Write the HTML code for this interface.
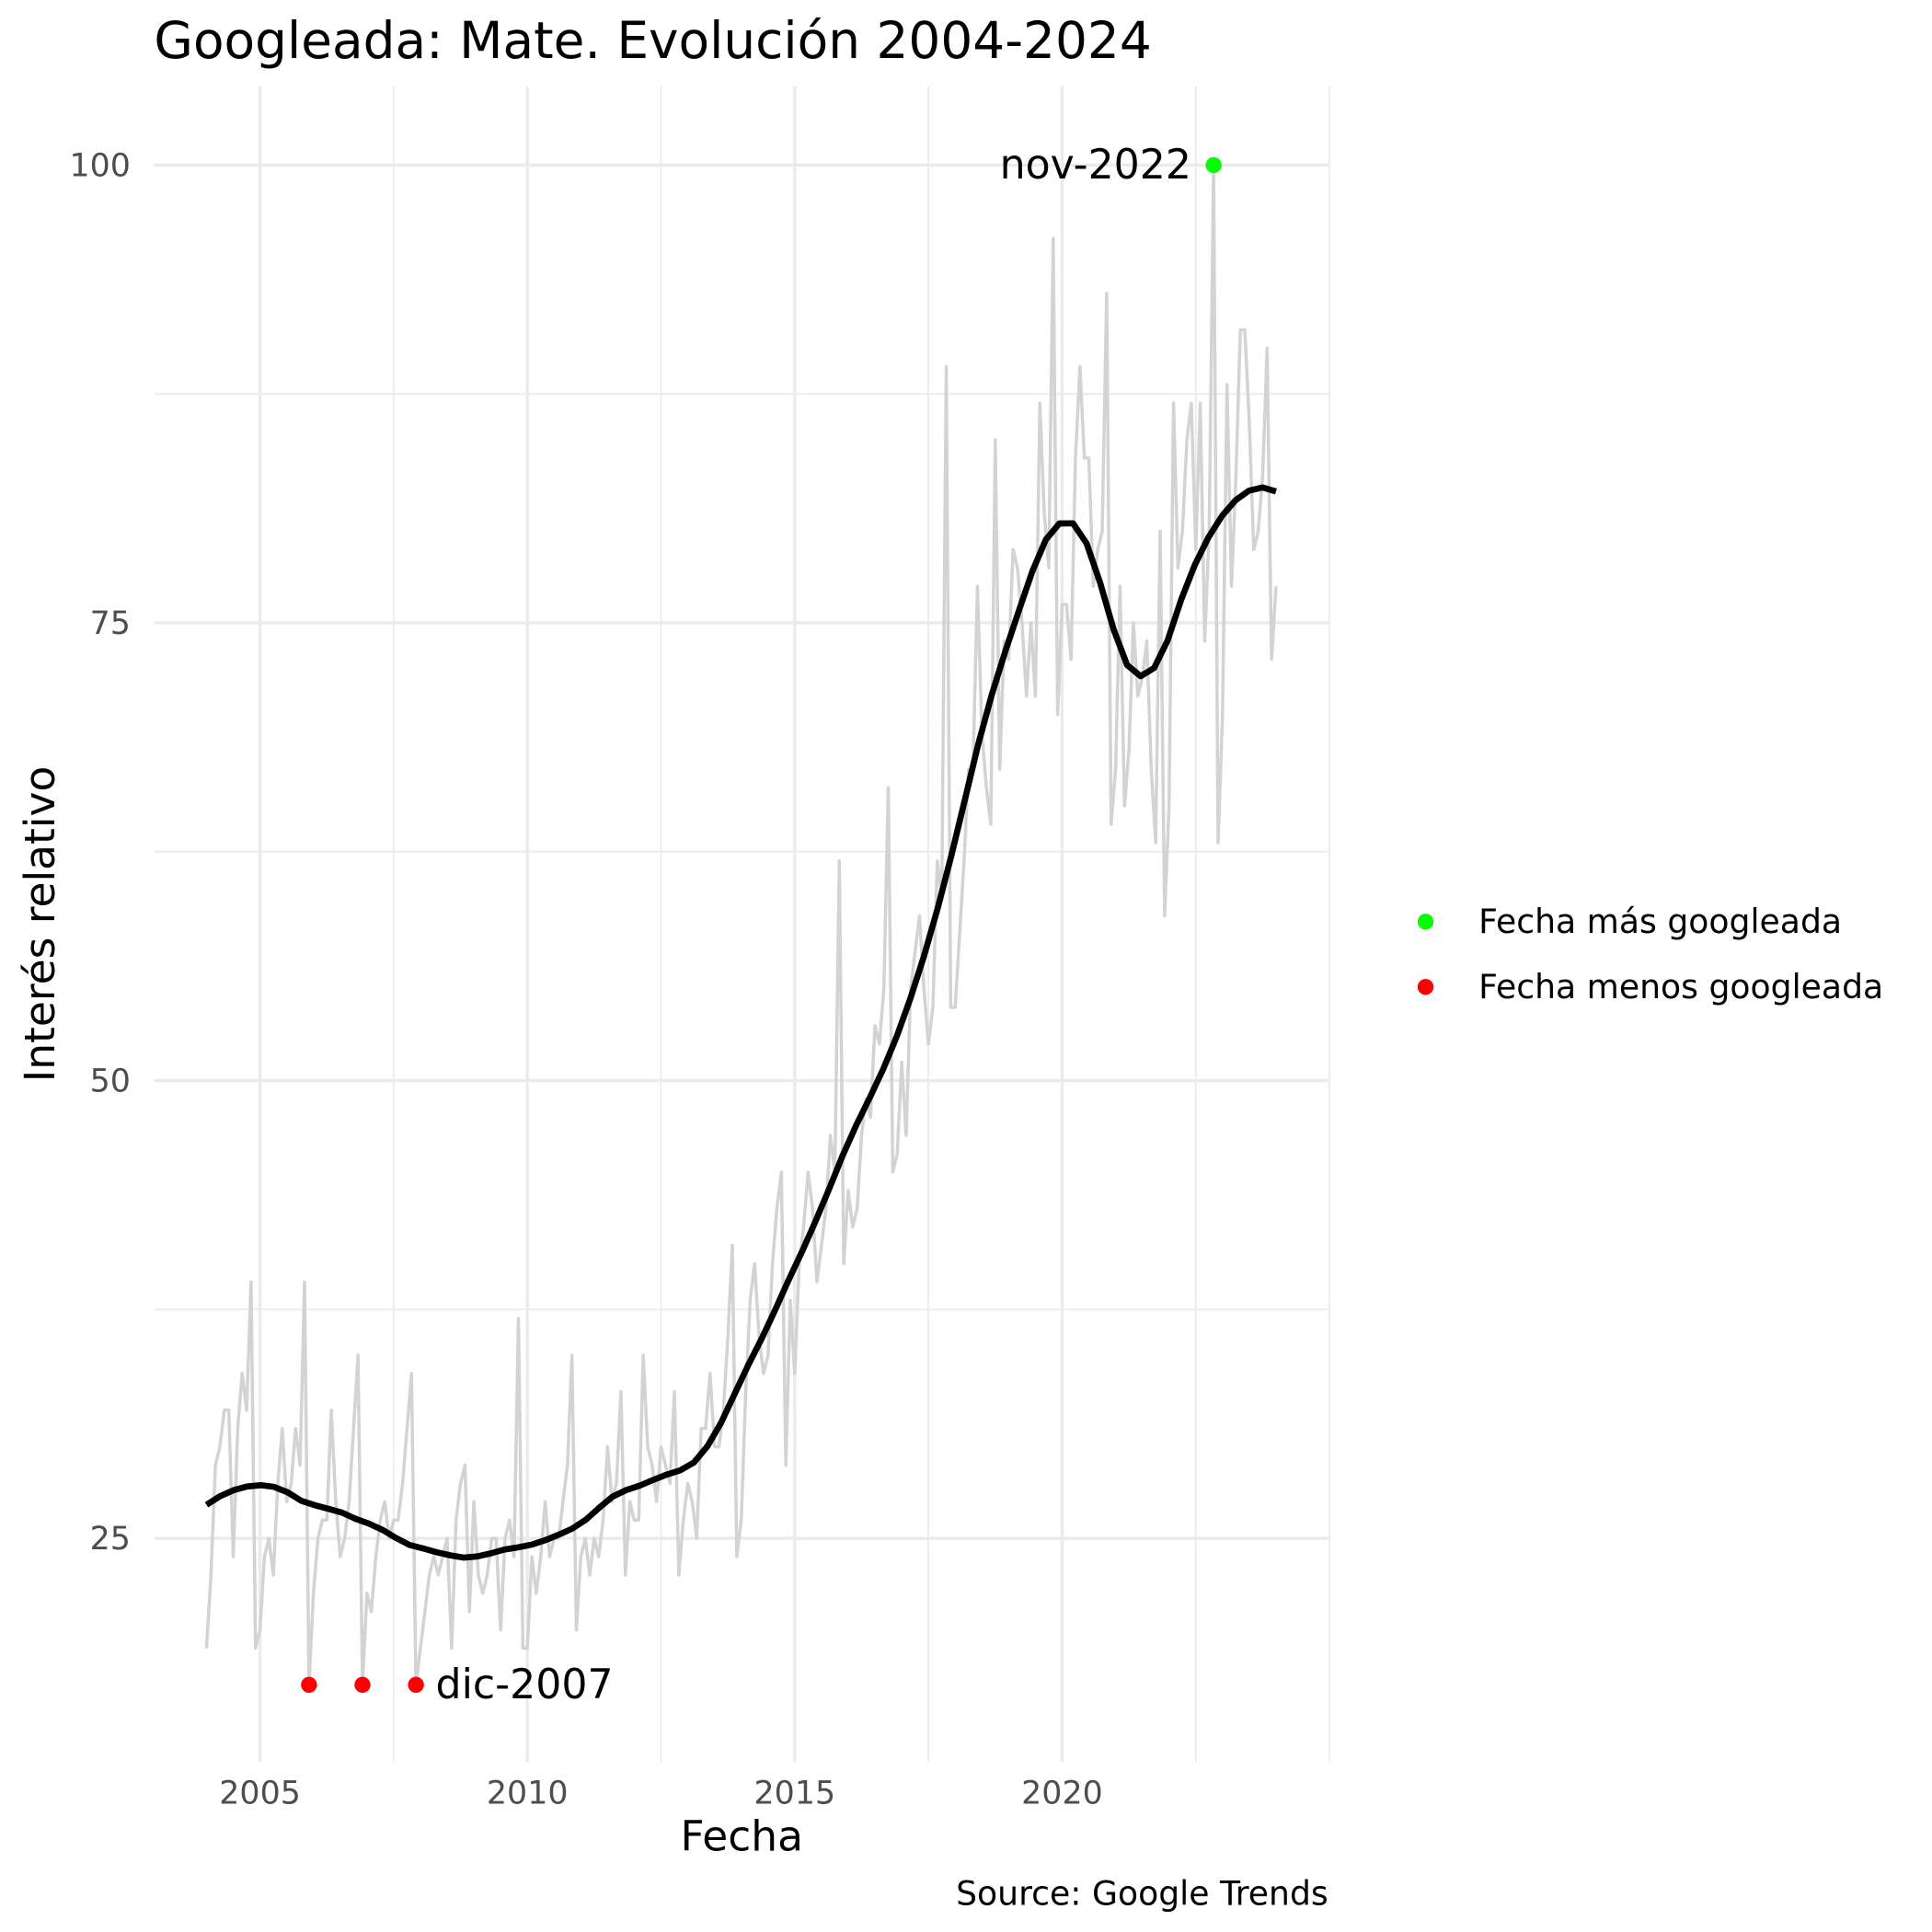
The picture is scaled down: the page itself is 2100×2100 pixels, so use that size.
<!DOCTYPE html>
<html><head><meta charset="utf-8"><style>
html,body{margin:0;padding:0;background:#fff;}
svg{display:block;font-family:"DejaVu Sans","Liberation Sans",sans-serif;}
</style></head><body>
<svg id="chart" width="2100" height="2100" viewBox="0 0 1568 1568">
<rect width="1568" height="1568" fill="#fff"/>
<g id="grid"></g>
<g id="series"></g>
<g id="axes"></g>
<text x="125" y="47" font-size="41" fill="#000">Googleada: Mate. Evolución 2004-2024</text>
<text x="602" y="1502" font-size="34" text-anchor="middle" fill="#000">Fecha</text>
<text transform="translate(44,750) rotate(-90)" font-size="34" text-anchor="middle" fill="#000">Interés relativo</text>
<text x="1078" y="1546" font-size="27" text-anchor="end" fill="#000">Source: Google Trends</text>
<g>
<g><circle cx="1157" cy="748" r="6.5" fill="#00ff00"/><text x="1200" y="757" font-size="27">Fecha más googleada</text></g>
<g><circle cx="1157" cy="801" r="6.5" fill="#ff0000"/><text x="1200" y="810" font-size="27">Fecha menos googleada</text></g>
</g>
</svg>
<script>
const startYear = 2004;
const values = [
19,23,29,30,32,32,24,31,34,32,39,19,
20,24,25,23,28,31,27,28,31,29,39,17,
22,25,26,26,32,27,24,25,27,31,35,17,
22,21,24,26,27,25,26,26,28,31,34,17,
19,21,23,24,23,24,25,19,26,28,29,21,
27,23,22,23,25,25,20,25,26,24,37,19,
19,24,22,24,27,24,25,25,27,29,35,20,
24,25,23,25,24,26,30,27,28,33,23,27,
26,26,35,30,29,27,30,29,28,33,23,26,
28,27,25,31,31,34,30,30,32,36,41,24,
26,33,38,40,36,34,35,40,43,45,29,38,
34,40,42,45,43,39,41,43,47,45,62,40,
44,42,43,47,49,48,53,52,55,66,45,46,
51,47,55,57,59,55,52,54,62,60,89,54,
54,58,62,67,67,77,69,66,64,85,67,74,
73,79,78,75,71,75,71,87,81,78,96,70,
76,76,73,84,89,84,84,77,79,80,93,64,
67,77,65,68,75,71,72,74,67,63,80,59,
65,87,78,80,85,87,79,87,74,80,100,63,
70,88,77,83,91,91,86,79,80,83,90,73,
77];
const maxLabel = ["nov-2022"];
const minLabel = ["dic-2007"];
const minMarkerValue = [17];
const yTicks = [25,50,75,100];
const yMinor = [12.5,37.5,62.5,87.5];
const xTicks = [2005,2010,2015,2020];
const xMinor = [2007.5,2012.5,2017.5,2022.5,2025];

const NS="http://www.w3.org/2000/svg";
const X0=125,X1=1078,Y0=70,Y1=1430;
const xs=t=>211+(t-2005)*43.4;
const ys=v=>134+(100-v)*14.86;
function mk(tag,parent,attrs){const e=document.createElementNS(NS,tag);for(const k in attrs)e.setAttribute(k,attrs[k]);parent.appendChild(e);return e;}
const grid=document.getElementById('grid'),series=document.getElementById('series'),axes=document.getElementById('axes');
yMinor.forEach(v=>{const y=ys(v);if(y<Y0||y>Y1)return;const l=mk('line',grid,{x1:X0,x2:X1,y1:y,y2:y,stroke:'#ebebeb','stroke-width':1.3});

});
xMinor.forEach(t=>{const x=xs(t);const l=mk('line',grid,{x1:x,x2:x,y1:Y0,y2:Y1,stroke:'#ebebeb','stroke-width':1.3});

});
yTicks.forEach(v=>{const y=ys(v);const l=mk('line',grid,{x1:X0,x2:X1,y1:y,y2:y,stroke:'#ebebeb','stroke-width':2.6});


const t=mk('text',axes,{x:106,y:y+9,'font-size':26,'text-anchor':'end',fill:'#4d4d4d'});t.textContent=v;

});
xTicks.forEach(v=>{const x=xs(v);const l=mk('line',grid,{x1:x,x2:x,y1:Y0,y2:Y1,stroke:'#ebebeb','stroke-width':2.6});


const t=mk('text',axes,{x:x,y:1464,'font-size':26,'text-anchor':'middle',fill:'#4d4d4d'});t.textContent=v;

});
const T=values.map((v,i)=>startYear+i/12);
const raw=mk('path',series,{d:values.map((v,i)=>(i?'L':'M')+xs(T[i]).toFixed(2)+','+ys(v).toFixed(2)).join(''),fill:'none',stroke:'#d3d3d3','stroke-width':2.6,'stroke-linejoin':'round'});


// loess (local quadratic, tricube)
const n=values.length,q=Math.round(0.2*n);
function solve3(A,b){const M=A.map((r,i)=>[...r,b[i]]);for(let i=0;i<3;i++){let p=i;for(let k=i+1;k<3;k++)if(Math.abs(M[k][i])>Math.abs(M[p][i]))p=k;[M[i],M[p]]=[M[p],M[i]];for(let k=0;k<3;k++){if(k===i)continue;const f=M[k][i]/M[i][i];for(let j=i;j<4;j++)M[k][j]-=f*M[i][j];}}return M.map((r,i)=>r[3]/r[i]);}
function loess(t0){const d=T.map(t=>Math.abs(t-t0));const h=[...d].sort((a,b)=>a-b)[q-1]*1.0001;
const A=[[0,0,0],[0,0,0],[0,0,0]],b=[0,0,0];
for(let i=0;i<n;i++){const u=d[i]/h;if(u>=1)continue;const w=Math.pow(1-u*u*u,3);const x=T[i]-t0;const ph=[1,x,x*x];
for(let r=0;r<3;r++){b[r]+=w*ph[r]*values[i];for(let c=0;c<3;c++)A[r][c]+=w*ph[r]*ph[c];}}
return solve3(A,b)[0];}
const pts=[];for(let k=0;k<80;k++){const t=T[0]+(T[n-1]-T[0])*k/79;pts.push([xs(t),ys(loess(t))]);}
const sm=mk('path',series,{d:pts.map((p,i)=>(i?'L':'M')+p[0].toFixed(2)+','+p[1].toFixed(2)).join(''),fill:'none',stroke:'#000','stroke-width':5,'stroke-linejoin':'round'});


const mxv=Math.max(...values),mi=values.indexOf(mxv);
const c=mk('circle',series,{cx:xs(T[mi]),cy:ys(mxv),r:6.5,fill:'#00ff00'});


const tl=mk('text',series,{x:xs(T[mi])-18,y:ys(mxv)+11,'font-size':33,'text-anchor':'end',fill:'#000'});tl.textContent=maxLabel[0];


const mnv=Math.min(...values);let lastX=0;
values.forEach((v,i)=>{if(v===mnv){const cc=mk('circle',series,{cx:xs(T[i]),cy:ys(minMarkerValue[0]),r:6.5,fill:'#ff0000'});

lastX=xs(T[i]);}});
const ml=mk('text',series,{x:lastX+16,y:ys(minMarkerValue[0])+11,'font-size':33,fill:'#000'});ml.textContent=minLabel[0];


</script>
</body></html>
